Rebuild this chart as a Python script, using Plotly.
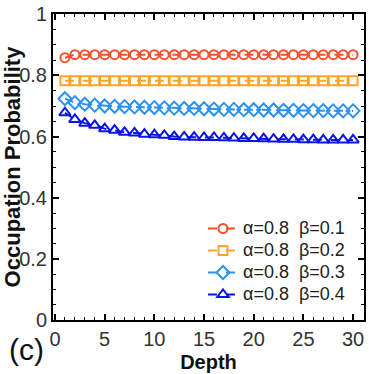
import plotly.graph_objects as go

depth = list(range(1, 31))
p_b01 = [0.858] + [0.868] * 29
p_b02 = [0.783] * 30
p_b03 = [0.724, 0.711, 0.706, 0.703, 0.700, 0.699, 0.698, 0.697, 0.696, 0.695,
         0.694, 0.693, 0.692, 0.692, 0.691, 0.690, 0.689, 0.689, 0.688, 0.688,
         0.687, 0.687, 0.686, 0.686, 0.685, 0.685, 0.685, 0.684, 0.684, 0.684]
p_b04 = [0.678, 0.656, 0.644, 0.637, 0.626, 0.621, 0.614, 0.612, 0.608, 0.606,
         0.604, 0.600, 0.599, 0.598, 0.597, 0.597, 0.596, 0.595, 0.594, 0.594,
         0.593, 0.592, 0.591, 0.591, 0.590, 0.590, 0.589, 0.589, 0.589, 0.589]
labels = ["α=0.8\u00a0\u00a0β=0.1", "α=0.8\u00a0\u00a0β=0.2",
          "α=0.8\u00a0\u00a0β=0.3", "α=0.8\u00a0\u00a0β=0.4"]
colors = ["#F4512C", "#FFA42A", "#2C92F2", "#0A14E6"]
symbols = ["circle-open", "square-open", "diamond-open", "triangle-up-open"]
sizes = [9, 9, 10, 10]

fig = go.Figure()
for ys, lab, col, sym, sz in zip([p_b01, p_b02, p_b03, p_b04], labels, colors, symbols, sizes):
    fig.add_trace(go.Scatter(
        x=depth, y=ys, name="<span style='font-size:18px'>" + lab + "</span>",
        mode="lines+markers",
        line=dict(color=col, width=2, dash="dash"),
        marker=dict(symbol=sym, size=sz, color=col, line=dict(width=2, color=col)),
    ))

fig.update_layout(
    width=369, height=374,
    margin=dict(l=53, r=3, t=9, b=54),
    plot_bgcolor="white", paper_bgcolor="white",
    font=dict(family="Liberation Sans, Arial, sans-serif", size=20, color="#333333"),
    showlegend=True,
    legend=dict(x=0.955, y=0.031, xanchor="right", yanchor="bottom",
                bgcolor="rgba(0,0,0,0)", font=dict(size=14.6, color="#222222"),
                itemwidth=30, tracegroupgap=0),
)
fig.update_xaxes(
    range=[-0.2, 31.1], tickvals=[0, 5, 10, 15, 20, 25, 30],
    ticks="inside", ticklen=6, tickwidth=1.5, tickcolor="black",
    ticklabeloverflow="allow", tickfont=dict(size=20),
    minor=dict(tickvals=list(range(0, 31)), ticks="inside", ticklen=3, tickcolor="black", tickwidth=1.2),
    showline=True, linecolor="black", linewidth=2, mirror="allticks",
    showgrid=False, zeroline=False,
    title=dict(text="<b>Depth</b>", font=dict(size=20, color="#111111"), standoff=6),
)
fig.update_yaxes(
    range=[0, 1.001], tickvals=[0, 0.2, 0.4, 0.6, 0.8, 1], ticktext=["0", "0.2", "0.4", "0.6", "0.8", "1"],
    ticks="inside", ticklen=6, tickwidth=1.5, tickcolor="black",
    ticklabeloverflow="allow", tickfont=dict(size=20),
    minor=dict(dtick=0.05, ticks="inside", ticklen=3, tickcolor="black", tickwidth=1.2),
    showline=True, linecolor="black", linewidth=2, mirror="allticks",
    showgrid=False, zeroline=False,
    title=dict(text="<b>Occupation Probability</b>", font=dict(size=22, color="#111111"), standoff=1),
)
fig.add_annotation(text="(c)", xref="paper", yref="paper", x=-0.085, y=-0.035,
                   xanchor="center", yanchor="top", showarrow=False,
                   font=dict(size=30, color="#111111"))
fig.write_html("out.html", config={"displayModeBar": False},
               post_script="document.body.style.margin='0';document.body.style.padding='0';")
